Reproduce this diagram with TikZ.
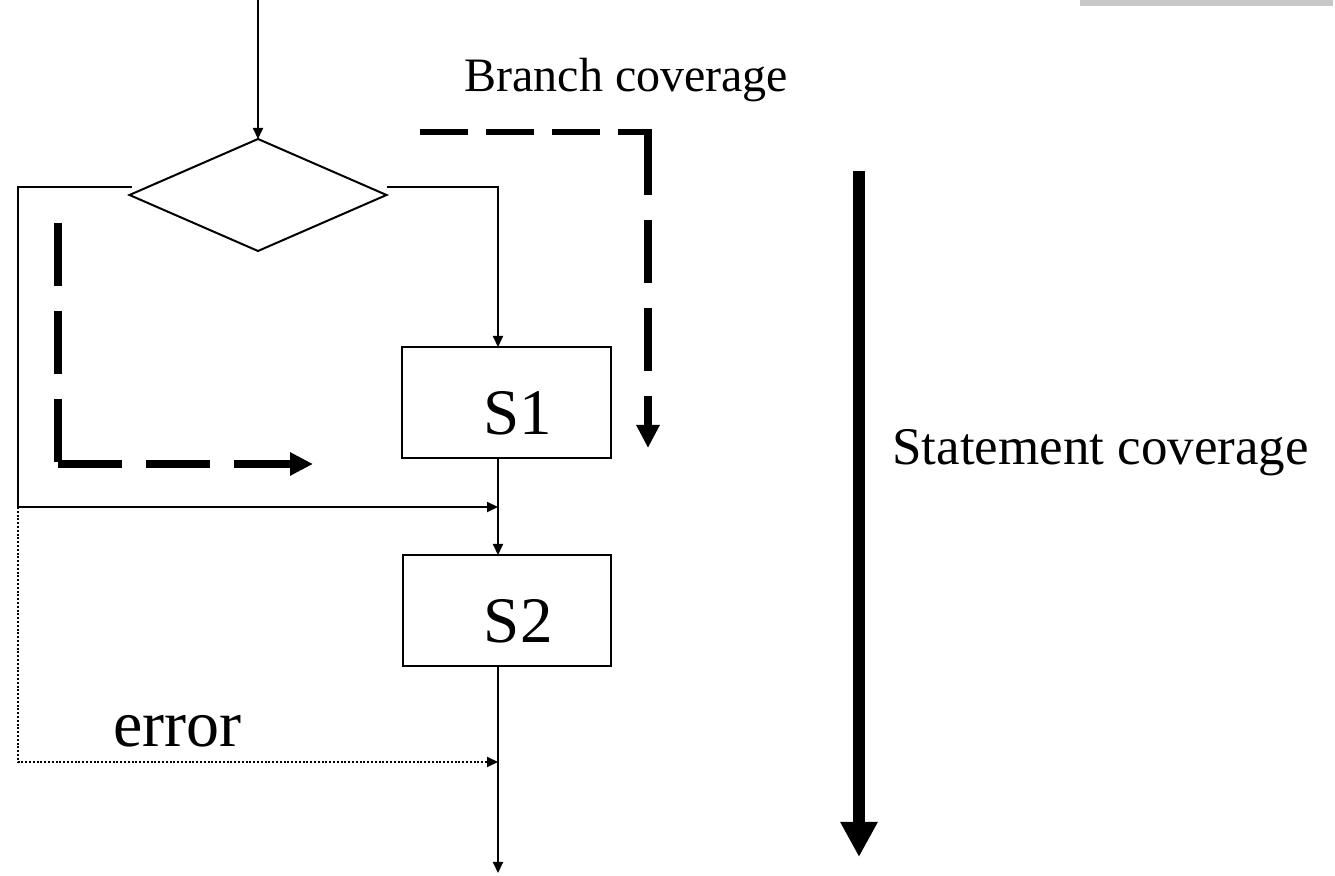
\documentclass[tikz,border=0pt]{standalone}
\usepackage{fontspec}
\setmainfont{Liberation Serif}
\usetikzlibrary{arrows.meta,shapes.geometric,calc}
\definecolor{bargray}{HTML}{C8C8C8}
\begin{document}
\begin{tikzpicture}[x=0.5pt,y=-0.5pt,
  flow/.style={line width=1pt,-{Triangle[length=5.5pt,width=5pt]}},
  errflow/.style={line width=1pt,dash pattern=on 1pt off 0.9pt,-{Triangle[length=5.5pt,width=5pt]}},
  stmtbox/.style={draw,line width=1pt,minimum width=104.5pt,minimum height=55.5pt,inner sep=0pt,outer sep=0pt},
  decision/.style={draw,diamond,line width=1pt,minimum width=128.5pt,minimum height=56pt,inner sep=0pt,outer sep=0pt},
  lbl/.style={inner sep=0pt,anchor=base west},
  covthin/.style={line width=2.75pt,dash pattern=on 24pt off 9pt},
  covthick/.style={line width=3.75pt,dash pattern=on 31.5pt off 12.5pt},
  covtip/.style={-{Triangle[length=11.5pt,width=11pt]}},
]
\useasboundingbox (0,0) rectangle (1335,876);
\fill[bargray] (1080,0) rectangle (1333,6);

% flowchart nodes
\node[decision] (d) at (258,195) {};
\node[stmtbox] (s1) at (506.5,402.5) {};
\node[stmtbox,minimum width=104pt] (s2) at (507,610.5) {};
\node[lbl,font=\fontsize{32.5pt}{36pt}\selectfont] (s1t) at ($(s1.center)+(-23.5,32.5)$) {S1};
\node[lbl,font=\fontsize{32.5pt}{36pt}\selectfont] (s2t) at ($(s2.center)+(-23.5,32.5)$) {S2};

% helper points of the control flow
\coordinate (in) at (258,0);
\coordinate (lx) at (18,507);
\coordinate (m1) at (498,507);
\coordinate (m2) at (498,762);
\coordinate (out) at (498,873);

% control flow
\draw[flow] (in) -- (d.north);
\draw[flow] ($(d.east)+(0,-8)$) -| ($(s1.north)+(-8.5,0)$);
\draw[flow] ($(d.west)+(2,-8)$) -| (lx) -- (m1);
\draw[flow] ($(s1.south)+(-8.5,0)$) -- ($(s2.north)+(-9,0)$);
\draw[flow] ($(s2.south)+(-9,0)$) -- (out);
\draw[errflow] (lx) |- (m2);
\node[lbl,font=\fontsize{33pt}{38pt}\selectfont] (err) at (113,747) {error};

% branch coverage paths
\coordinate (b0) at (420,132);
\coordinate (b1) at (651.75,132);
\coordinate (b2) at (648,132);
\coordinate (b3) at (648,448);
\draw[covthin] (b0) -- (b1);
\draw[covthick,covtip] (b2) -- (b3);
\coordinate (c0) at (58,223);
\coordinate (c1) at (58,462);
\coordinate (c2) at (58,464);
\coordinate (c3) at (313,464);
\draw[covthick] (c0) -- (c1);
\draw[covthick,dash pattern=on 32pt off 12pt,covtip] (c2) -- (c3);
\node[lbl,font=\fontsize{24pt}{28pt}\selectfont] (bc) at (464,92) {Branch coverage};

% statement coverage
\coordinate (st0) at (859,171);
\coordinate (st1) at (859,857);
\draw[line width=6pt,-{Triangle[length=17.5pt,width=17.5pt]}] (st0) -- (st1);
\node[lbl,font=\fontsize{26.5pt}{31pt}\selectfont] (sc) at (892,465) {Statement coverage};
\end{tikzpicture}
\end{document}
